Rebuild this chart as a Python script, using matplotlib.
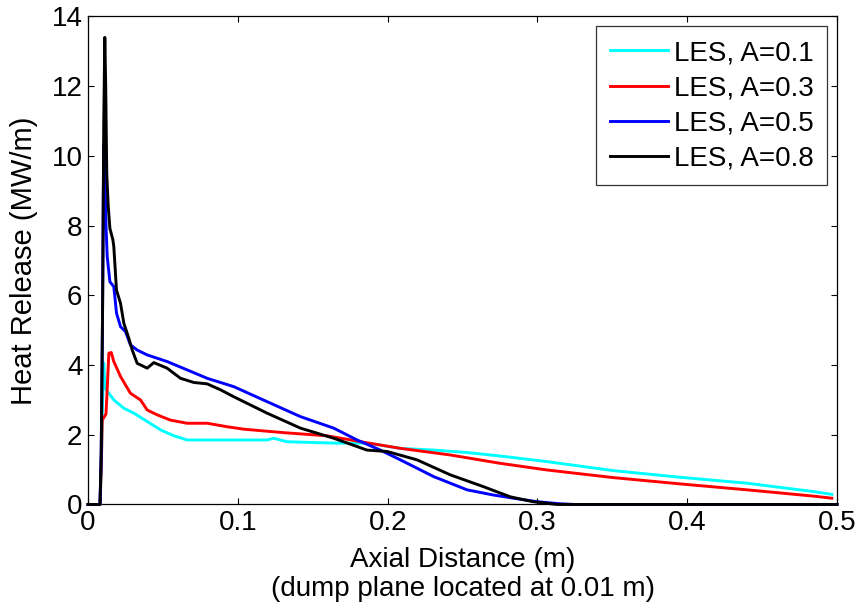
import matplotlib
matplotlib.use('Agg')
import matplotlib.pyplot as plt

plt.rcParams['font.family'] = ['Liberation Sans', 'DejaVu Sans']

# values
x_a01 = [0, 0.008, 0.0088, 0.0096, 0.0105, 0.0112, 0.012, 0.0139, 0.0172, 0.0239, 0.0306,
         0.0395, 0.0484, 0.0573, 0.0662, 0.1017, 0.1195, 0.1239, 0.1329, 0.164, 0.1862,
         0.2085, 0.2307, 0.253, 0.2752, 0.3063, 0.3508, 0.3953, 0.4398, 0.4842, 0.4965]
y_a01 = [0, 0, 1.0, 2.8, 4.06, 3.5, 3.3, 3.19, 3.0, 2.76, 2.62,
         2.38, 2.14, 1.97, 1.85, 1.85, 1.85, 1.90, 1.80, 1.76, 1.76,
         1.61, 1.56, 1.49, 1.39, 1.23, 0.97, 0.78, 0.61, 0.37, 0.29]

x_a03 = [0, 0.008, 0.0088, 0.0095, 0.012, 0.013, 0.0139, 0.0155, 0.0172, 0.0217, 0.0283,
         0.035, 0.0395, 0.0462, 0.055, 0.0662, 0.0795, 0.0929, 0.1039, 0.1306, 0.1596,
         0.1862, 0.2085, 0.2418, 0.2752, 0.3063, 0.3508, 0.3953, 0.4398, 0.4842, 0.4965]
y_a03 = [0, 0, 1.0, 2.42, 2.6, 3.5, 4.34, 4.36, 4.10, 3.67, 3.19,
         3.0, 2.71, 2.57, 2.42, 2.33, 2.33, 2.23, 2.16, 2.06, 1.97,
         1.77, 1.61, 1.42, 1.18, 0.99, 0.77, 0.59, 0.42, 0.24, 0.18]

x_a05 = [0, 0.008, 0.0088, 0.0096, 0.0102, 0.0107, 0.0113, 0.012, 0.0128, 0.0146, 0.0172,
         0.019, 0.0217, 0.025, 0.0283, 0.0328, 0.0395, 0.0528, 0.0662, 0.0795, 0.0973,
         0.1195, 0.1418, 0.164, 0.1796, 0.1951, 0.2085, 0.2307, 0.253, 0.2707, 0.284,
         0.2997, 0.315, 0.325, 0.5]
y_a05 = [0, 0, 1.5, 5.0, 9.0, 10.36, 9.5, 8.0, 7.11, 6.39, 6.25,
         5.49, 5.1, 4.96, 4.58, 4.43, 4.29, 4.10, 3.86, 3.62, 3.38,
         2.95, 2.52, 2.19, 1.85, 1.56, 1.28, 0.80, 0.42, 0.27, 0.18,
         0.08, 0.02, 0, 0]

x_a08 = [0, 0.008, 0.0088, 0.0098, 0.0105, 0.0112, 0.0118, 0.0125, 0.0135, 0.0146, 0.0166,
         0.0172, 0.019, 0.0217, 0.0239, 0.0272, 0.0295, 0.0328, 0.0395, 0.0439, 0.0528,
         0.0617, 0.0706, 0.0795, 0.0884, 0.0973, 0.1195, 0.1418, 0.164, 0.1862, 0.1996,
         0.2196, 0.2418, 0.264, 0.2818, 0.297, 0.313, 0.5]
y_a08 = [0, 0, 1.5, 6.0, 11.0, 13.4, 12.0, 9.5, 8.55, 7.92, 7.59,
         7.40, 6.15, 5.77, 5.2, 4.77, 4.43, 4.05, 3.91, 4.07, 3.91,
         3.62, 3.50, 3.46, 3.29, 3.09, 2.62, 2.19, 1.90, 1.56, 1.52,
         1.28, 0.85, 0.51, 0.22, 0.08, 0, 0]

labels = ['LES, A=0.1', 'LES, A=0.3', 'LES, A=0.5', 'LES, A=0.8']
colors = ['#00ffff', '#ff0000', '#0000ff', '#000000']
xticks = [0, 0.1, 0.2, 0.3, 0.4, 0.5]
xticklabels = ['0', '0.1', '0.2', '0.3', '0.4', '0.5']
yticks = [0, 2, 4, 6, 8, 10, 12, 14]

fig = plt.figure(figsize=(8.58, 6.1), dpi=100)
ax = fig.add_axes([0.1026, 0.173, 0.873, 0.80])

series = [(x_a01, y_a01), (x_a03, y_a03), (x_a05, y_a05), (x_a08, y_a08)]
for (xs, ys), lab, c in zip(series, labels, colors):
    ax.plot(xs, ys, color=c, lw=2.1, label=lab, clip_on=False, zorder=3)

ax.set_xlim(0, 0.5)
ax.set_ylim(0, 14)
ax.set_xticks(xticks)
ax.set_xticklabels(xticklabels)
ax.set_yticks(yticks)
ax.tick_params(direction='in', length=4, width=0.8, top=True, right=True,
               labelsize=20, pad=4)
for s in ax.spines.values():
    s.set_linewidth(0.9)

ax.set_xlabel('Axial Distance (m)\n(dump plane located at 0.01 m)', fontsize=20,
              labelpad=8, linespacing=1.15)
ax.set_ylabel('Heat Release (MW/m)', fontsize=21, labelpad=10)

leg = ax.legend(loc='upper right', fontsize=20, frameon=True, fancybox=False,
                edgecolor='black', handlelength=2.1, borderaxespad=0.35,
                labelspacing=0.33, handletextpad=0.2, borderpad=0.5)
leg.get_frame().set_linewidth(0.9)
leg.set_zorder(5)

fig.savefig('out.png', dpi=100)
